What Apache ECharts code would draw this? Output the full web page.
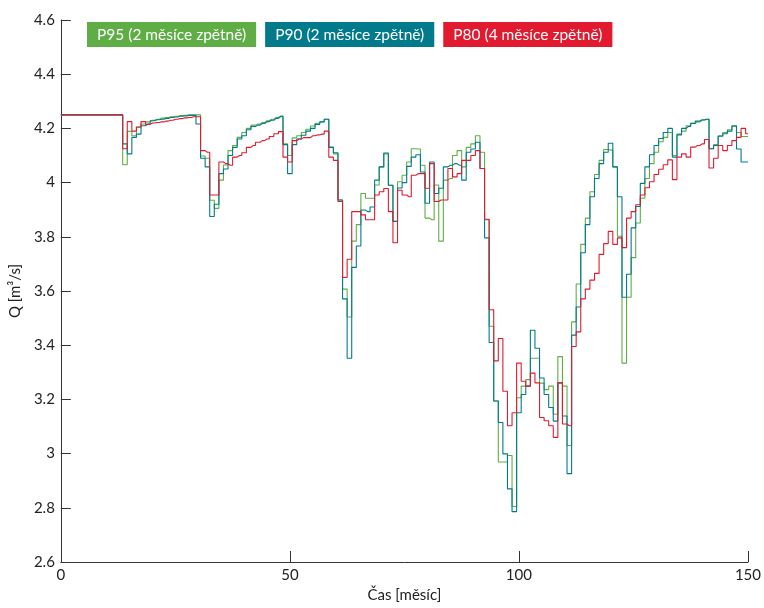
<!DOCTYPE html>
<html>
<head>
<meta charset="utf-8">
<script src="https://cdn.jsdelivr.net/npm/echarts@6/dist/echarts.min.js"></script>
<style>
  html, body { margin: 0; padding: 0; background: #fff; }
  #chart { width: 764px; height: 608px; }
</style>
</head>
<body>
<div id="chart"></div>
<script>
// monthly values, index = month 0..150
const p95 = [
  4.25, 4.25, 4.25, 4.25, 4.25, 4.25, 4.25, 4.25, 4.25, 4.25,
  4.25, 4.25, 4.25, 4.25, 4.066, 4.189, 4.173, 4.204, 4.216, 4.224,
  4.23, 4.234, 4.238, 4.24, 4.243, 4.245, 4.247, 4.248, 4.25, 4.25,
  4.25, 4.098, 4.09, 3.935, 3.905, 4.009, 4.065, 4.118, 4.137, 4.167,
  4.185, 4.2, 4.212, 4.216, 4.222, 4.228, 4.234, 4.24, 4.246, 4.143,
  4.1, 4.165, 4.173, 4.185, 4.197, 4.209, 4.219, 4.225, 4.234, 4.131,
  4.106, 3.936, 3.607, 3.504, 3.784, 3.845, 3.96, 3.942, 3.942, 3.991,
  4.058, 4.106, 3.99, 3.857, 4.003, 4.027, 4.076, 4.125, 4.124, 4.064,
  3.869, 3.863, 3.991, 3.784, 4.009, 4.015, 4.1, 4.118, 4.058, 4.13,
  4.143, 4.173, 4.112, 3.863, 3.47, 3.194, 2.969, 2.969, 2.993, 2.805,
  3.206, 3.249, 3.273, 3.352, 3.352, 3.26, 3.236, 3.249, 3.145, 3.358,
  3.249, 3.03, 3.486, 3.626, 3.772, 3.869, 3.966, 4.03, 4.082, 4.122,
  4.12, 4.058, 3.802, 3.334, 3.577, 3.723, 3.851, 3.942, 4.015, 4.07,
  4.112, 4.151, 4.167, 4.185, 4.1, 4.179, 4.19, 4.21, 4.22, 4.224,
  4.23, 4.234, 4.125, 4.14, 4.173, 4.185, 4.195, 4.207, 4.185, 4.17,
  4.17
];
const p90 = [
  4.25, 4.25, 4.25, 4.25, 4.25, 4.25, 4.25, 4.25, 4.25, 4.25,
  4.25, 4.25, 4.25, 4.25, 4.143, 4.106, 4.167, 4.179, 4.21, 4.216,
  4.228, 4.232, 4.234, 4.237, 4.24, 4.242, 4.245, 4.246, 4.248, 4.248,
  4.216, 4.09, 4.058, 3.875, 3.92, 4.033, 4.05, 4.1, 4.13, 4.161,
  4.173, 4.195, 4.207, 4.212, 4.218, 4.225, 4.23, 4.237, 4.244, 4.14,
  4.033, 4.14, 4.161, 4.175, 4.19, 4.2, 4.215, 4.224, 4.234, 4.13,
  4.11, 3.936, 3.571, 3.352, 3.687, 3.766, 3.899, 3.893, 3.91, 4.009,
  4.058, 4.109, 3.99, 3.857, 3.98, 4.0, 4.06, 4.094, 4.103, 4.039,
  3.924, 4.076, 3.96, 3.979, 4.058, 4.064, 4.07, 4.064, 4.009, 4.112,
  4.124, 4.149, 4.052, 3.796, 3.41, 3.194, 3.115, 2.999, 2.87, 2.786,
  3.151, 3.218, 3.249, 3.455, 3.389, 3.279, 3.218, 3.17, 3.12, 3.261,
  3.139, 2.926, 3.437, 3.541, 3.741, 3.845, 3.948, 4.015, 4.07, 4.112,
  4.145, 4.058, 3.948, 3.577, 3.662, 3.833, 3.912, 3.997, 4.058, 4.103,
  4.137, 4.163, 4.185, 4.2, 4.094, 4.176, 4.2, 4.207, 4.218, 4.227,
  4.232, 4.234, 4.125, 4.137, 4.171, 4.18, 4.19, 4.21, 4.124, 4.076,
  4.076
];
const p80 = [
  4.25, 4.25, 4.25, 4.25, 4.25, 4.25, 4.25, 4.25, 4.25, 4.25,
  4.25, 4.25, 4.25, 4.25, 4.125, 4.225, 4.19, 4.205, 4.225, 4.215,
  4.22, 4.222, 4.224, 4.227, 4.23, 4.234, 4.236, 4.239, 4.24, 4.243,
  4.243, 4.118, 4.112, 3.954, 3.954, 4.076, 4.07, 4.064, 4.094, 4.1,
  4.11, 4.13, 4.137, 4.149, 4.155, 4.161, 4.17, 4.18, 4.188, 4.094,
  4.076, 4.155, 4.161, 4.166, 4.166, 4.173, 4.176, 4.179, 4.19, 4.094,
  4.082, 3.93, 3.65, 3.717, 3.893, 3.893, 3.881, 3.863, 3.863, 3.954,
  3.966, 3.978, 3.893, 3.778, 3.972, 3.954, 3.948, 4.027, 4.033, 4.033,
  3.979, 4.07, 3.93, 3.936, 3.936, 4.052, 4.021, 4.033, 4.082, 4.082,
  4.1, 4.118, 4.052, 3.865, 3.531, 3.342, 3.425, 3.23, 3.103, 3.151,
  3.334, 3.267, 3.249, 3.297, 3.261, 3.133, 3.121, 3.103, 3.06, 3.261,
  3.109, 3.103, 3.395, 3.449, 3.571, 3.607, 3.64, 3.665, 3.735, 3.775,
  3.82, 3.772, 3.796, 3.76, 3.869, 3.893, 3.918, 3.954, 3.981, 4.003,
  4.03, 4.049, 4.066, 4.084, 4.011, 4.094, 4.106, 4.094, 4.131, 4.137,
  4.143, 4.159, 4.054, 4.09, 4.137, 4.118, 4.137, 4.155, 4.167, 4.2,
  4.18
];

const seriesNames = ['P95 (2 měsíce zpětně)', 'P90 (2 měsíce zpětně)', 'P80 (4 měsíce zpětně)'];
const seriesColors = ['#5fae45', '#017b8b', '#e11a30'];
const seriesValues = [p95, p90, p80];

const font = 'Lato, "Open Sans", sans-serif';
const chart = echarts.init(document.getElementById('chart'), null, { renderer: 'canvas' });

chart.setOption({
  animation: false,
  textStyle: { fontFamily: font },
  grid: { left: 60, right: 12, top: 20, bottom: 40 },
  legend: {
    left: 77,
    top: 17,
    itemWidth: 0,
    itemHeight: 0,
    itemGap: 4,
    selectedMode: false,
    data: seriesNames.map((n, i) => ({
      name: n,
      icon: 'none',
      textStyle: {
        color: '#fff',
        backgroundColor: seriesColors[i],
        fontFamily: font,
        fontSize: 15.5,
        lineHeight: 15,
        padding: [5, 10]
      }
    }))
  },
  xAxis: {
    type: 'value',
    min: 0,
    max: 150,
    interval: 50,
    name: 'Čas [měsíc]',
    nameLocation: 'middle',
    nameGap: 26,
    nameTextStyle: { color: '#222', fontSize: 15, fontFamily: font },
    axisLine: { lineStyle: { color: '#333', width: 1 } },
    axisTick: { inside: true, length: 11, lineStyle: { color: '#333' } },
    axisLabel: { color: '#222', fontSize: 15, margin: 6, fontFamily: font },
    splitLine: { show: false }
  },
  yAxis: {
    type: 'value',
    min: 2.6,
    max: 4.6,
    interval: 0.2,
    name: 'Q [m³/s]',
    nameLocation: 'middle',
    nameGap: 36,
    nameRotate: 90,
    nameTextStyle: { color: '#222', fontSize: 15, fontFamily: font },
    axisLine: { show: true, lineStyle: { color: '#333', width: 1 } },
    axisTick: { show: true, inside: true, length: 10, lineStyle: { color: '#333' } },
    axisLabel: { color: '#222', fontSize: 15, margin: 6, fontFamily: font },
    splitLine: { show: false }
  },
  series: seriesValues.map((vals, i) => ({
    name: seriesNames[i],
    type: 'line',
    step: 'middle',
    symbol: 'none',
    lineStyle: { width: 1.1, color: seriesColors[i] },
    itemStyle: { color: seriesColors[i] },
    data: vals.map((v, m) => [m, v])
  }))
});
</script>
</body>
</html>
